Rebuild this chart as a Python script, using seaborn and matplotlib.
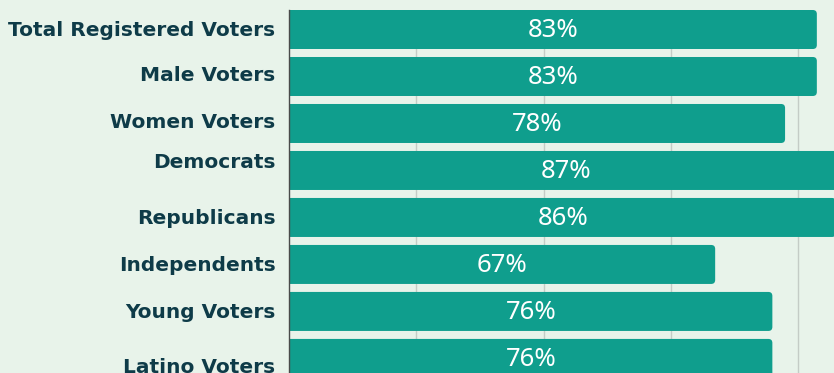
import matplotlib
matplotlib.use("Agg")
import matplotlib.pyplot as plt
from matplotlib.patches import FancyBboxPatch
from matplotlib.transforms import ScaledTranslation
import seaborn as sns
import pandas as pd

# Share of each voter group (percent)
groups = ["Total Registered Voters", "Male Voters", "Women Voters", "Democrats",
          "Republicans", "Independents", "Young Voters", "Latino Voters"]
shares = [83, 83, 78, 87, 86, 67, 76, 76]
value_labels = ["83%", "83%", "78%", "87%", "86%", "67%", "76%", "76%"]
grid_ticks = [20, 40, 60, 80]

BG = "#e8f3ea"
BAR = "#0f9e8d"
INK = "#0e3b48"

sns.set_theme(style="white")
plt.rcParams["font.family"] = ["DejaVu Sans"]

df = pd.DataFrame({"group": groups, "share": shares})

fig = plt.figure(figsize=(8.34, 3.73), dpi=100, facecolor=BG)
ax = fig.add_axes([0.347, 0.0, 0.653, 363 / 373])
ax.set_facecolor(BG)

sns.barplot(data=df, x="share", y="group", color=BAR, width=0.83,
            saturation=1, ax=ax, zorder=2)

ax.set_xlim(0, 85.7)
ax.set_ylim(7.31, -0.415)

# Replace plain rectangles with bars rounded at the far end
px_x = 6.35   # pixels per percent
px_y = 47.0   # pixels per category
r = 4.0 / px_x
aspect = (4.0 / px_y) / r
rects = list(ax.patches)
for p in rects:
    x, y, w, h = p.get_x(), p.get_y(), p.get_width(), p.get_height()
    p.remove()
    ax.add_patch(FancyBboxPatch((x - r, y), w + r, h,
                                boxstyle=f"round,pad=0,rounding_size={r}",
                                mutation_aspect=aspect, facecolor=BAR,
                                edgecolor="none", zorder=2, clip_on=True))

for i, (v, lab) in enumerate(zip(shares, value_labels)):
    ax.text(v / 2, i + 0.03, lab, ha="center", va="center", color="white",
            fontsize=18.5, family=["Noto Sans", "DejaVu Sans"], fontweight="normal",
            zorder=3)

ax.set_xticks(grid_ticks)
ax.set_xticklabels([])
ax.grid(axis="x", color="#c4ccc6", linewidth=1, zorder=0)
ax.set_axisbelow(True)
ax.tick_params(axis="both", length=0)
ax.tick_params(axis="y", pad=10)
ax.set_xlabel("")
ax.set_ylabel("")
for s in ["top", "right", "bottom"]:
    ax.spines[s].set_visible(False)
ax.spines["left"].set_color("#4a4a4a")
ax.spines["left"].set_linewidth(1)

# label nudges (points) for the group names
nudges = {"Total Registered Voters": 1.0, "Male Voters": 2.5, "Women Voters": 2.5,
          "Democrats": 7, "Republicans": 1.0, "Independents": 1.0,
          "Young Voters": 1.0, "Latino Voters": -5.0}
for lbl in ax.get_yticklabels():
    lbl.set_fontweight("bold")
    lbl.set_fontsize(14.5)
    lbl.set_color(INK)
    dy = nudges.get(lbl.get_text(), 0)
    if dy:
        lbl.set_transform(lbl.get_transform() +
                          ScaledTranslation(0, dy / 72, fig.dpi_scale_trans))

fig.savefig("out.png", dpi=100, facecolor=BG)
